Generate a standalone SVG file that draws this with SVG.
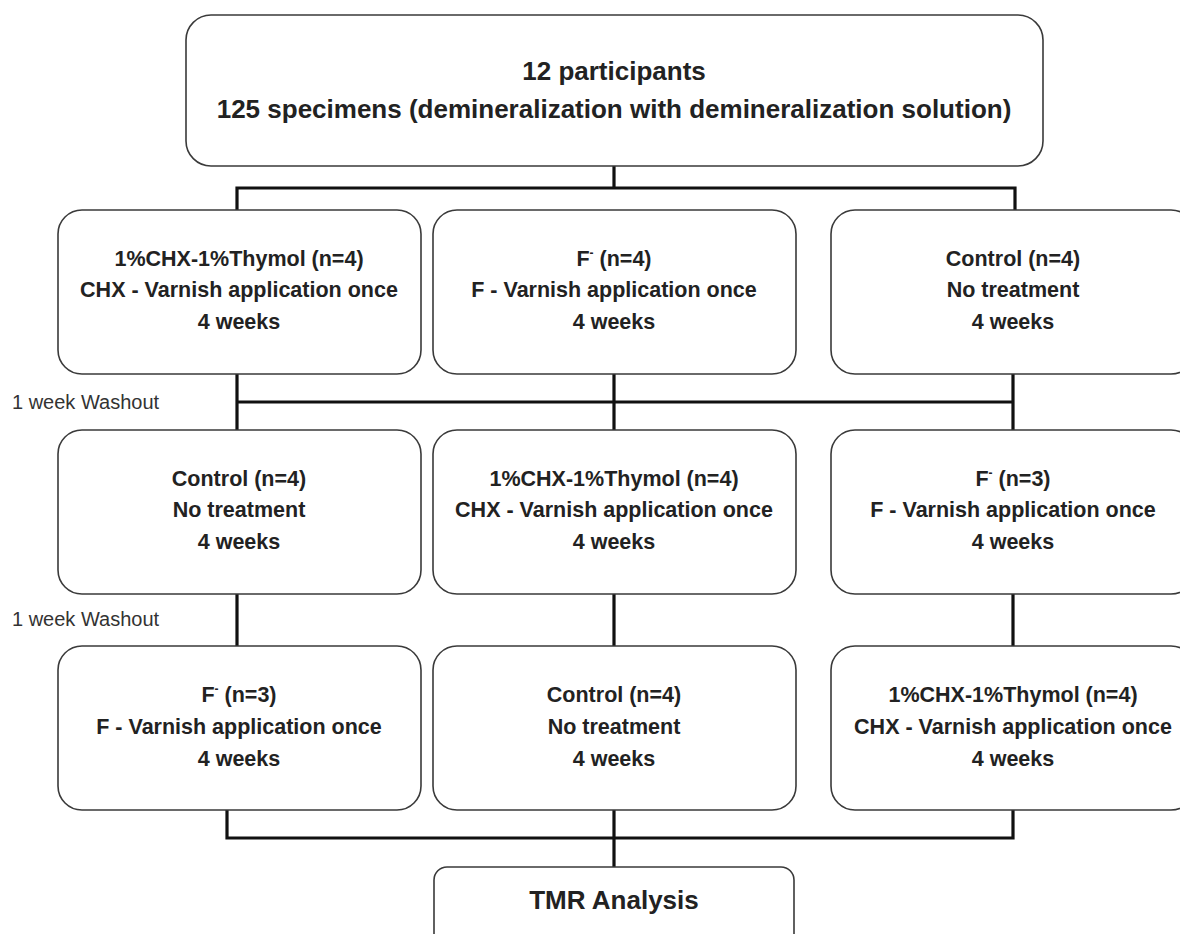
<svg xmlns="http://www.w3.org/2000/svg" width="1180" height="934" viewBox="0 0 1180 934">
<style>
.box{fill:#fff;stroke:#3a3a3a;stroke-width:1.6}
.t{font-family:"Liberation Sans",Arial,sans-serif;font-weight:bold;font-size:21.5px;fill:#222;text-anchor:middle}
.big{font-size:26px}
.w{font-family:"Liberation Sans",Arial,sans-serif;font-size:20px;fill:#333}
.c{fill:none;stroke:#111;stroke-width:3.2}
</style>
<rect width="1180" height="934" fill="#fff"/>
<g id="connectors">
<path class="c" d="M614 166V188M237 210V188H1015V210"/>
<path class="c" d="M237 374V430M614 374V430M1013 374V430M237 402H1013"/>
<path class="c" d="M237 594V646M614 594V646M1013 594V646"/>
<path class="c" d="M227 810V838H1013V810M614 810V867"/>
</g>
<g id="start">
<rect class="box" x="186" y="15" width="857" height="151" rx="25"/>
<text class="t big" x="614" y="80">12 participants</text>
<text class="t big" x="614" y="118">125 specimens (demineralization with demineralization solution)</text>
</g>
<g id="p1-chx">
<rect class="box" x="58" y="210" width="363" height="164" rx="24"/>
<text class="t" x="239" y="266">1%CHX-1%Thymol (n=4)</text>
<text class="t" x="239" y="297">CHX - Varnish application once</text>
<text class="t" x="239" y="329">4 weeks</text>
</g>
<g id="p1-f">
<rect class="box" x="433" y="210" width="363" height="164" rx="24"/>
<text class="t" x="614" y="266">F<tspan font-size="12" dy="-9">-</tspan><tspan dy="9"> (n=4)</tspan></text>
<text class="t" x="614" y="297">F - Varnish application once</text>
<text class="t" x="614" y="329">4 weeks</text>
</g>
<g id="p1-control">
<rect class="box" x="831" y="210" width="364" height="164" rx="24"/>
<text class="t" x="1013" y="266">Control (n=4)</text>
<text class="t" x="1013" y="297">No treatment</text>
<text class="t" x="1013" y="329">4 weeks</text>
</g>
<text class="w" x="12" y="409">1 week Washout</text>
<g id="p2-control">
<rect class="box" x="58" y="430" width="363" height="164" rx="24"/>
<text class="t" x="239" y="486">Control (n=4)</text>
<text class="t" x="239" y="517">No treatment</text>
<text class="t" x="239" y="549">4 weeks</text>
</g>
<g id="p2-chx">
<rect class="box" x="433" y="430" width="363" height="164" rx="24"/>
<text class="t" x="614" y="486">1%CHX-1%Thymol (n=4)</text>
<text class="t" x="614" y="517">CHX - Varnish application once</text>
<text class="t" x="614" y="549">4 weeks</text>
</g>
<g id="p2-f">
<rect class="box" x="831" y="430" width="364" height="164" rx="24"/>
<text class="t" x="1013" y="486">F<tspan font-size="12" dy="-9">-</tspan><tspan dy="9"> (n=3)</tspan></text>
<text class="t" x="1013" y="517">F - Varnish application once</text>
<text class="t" x="1013" y="549">4 weeks</text>
</g>
<text class="w" x="12" y="626">1 week Washout</text>
<g id="p3-f">
<rect class="box" x="58" y="646" width="363" height="164" rx="24"/>
<text class="t" x="239" y="702">F<tspan font-size="12" dy="-9">-</tspan><tspan dy="9"> (n=3)</tspan></text>
<text class="t" x="239" y="734">F - Varnish application once</text>
<text class="t" x="239" y="766">4 weeks</text>
</g>
<g id="p3-control">
<rect class="box" x="433" y="646" width="363" height="164" rx="24"/>
<text class="t" x="614" y="702">Control (n=4)</text>
<text class="t" x="614" y="734">No treatment</text>
<text class="t" x="614" y="766">4 weeks</text>
</g>
<g id="p3-chx">
<rect class="box" x="831" y="646" width="364" height="164" rx="24"/>
<text class="t" x="1013" y="702">1%CHX-1%Thymol (n=4)</text>
<text class="t" x="1013" y="734">CHX - Varnish application once</text>
<text class="t" x="1013" y="766">4 weeks</text>
</g>
<g id="tmr">
<rect class="box" x="434" y="867" width="360" height="90" rx="13"/>
<text class="t big" x="614" y="909">TMR Analysis</text>
</g>
</svg>
